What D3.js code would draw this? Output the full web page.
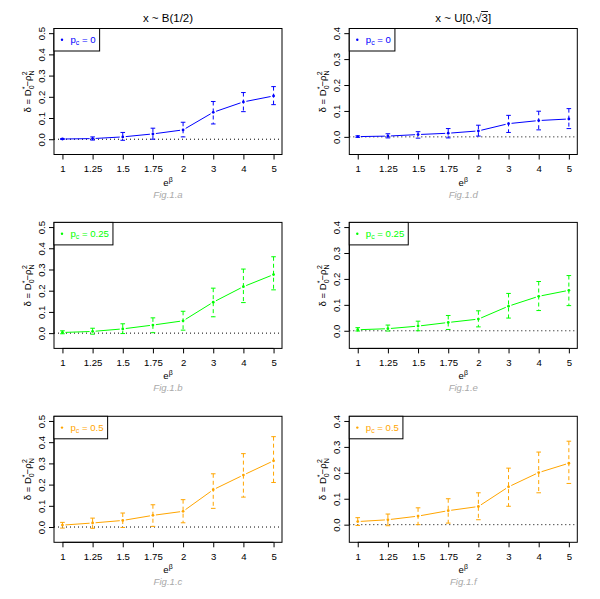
<!DOCTYPE html>
<html><head><meta charset="utf-8">
<script src="https://cdn.jsdelivr.net/npm/d3@7"></script>
<style>
body{margin:0;background:#fff}
svg{display:block}
text{font-family:"Liberation Sans",Arial,Helvetica,sans-serif}
</style>
</head><body>
<svg id="c" width="600" height="599"></svg>
<script>
const categories = ["1","1.25","1.5","1.75","2","3","4","5"];
const yTicksLeft = [0,0.1,0.2,0.3,0.4,0.5];
const yTicksRight = [0,0.1,0.2,0.3,0.4];
const titles = ["x ~ B(1/2)", "x ~ U[0,\u221A3]"];
const figLabels = ["Fig.1.a","Fig.1.b","Fig.1.c","Fig.1.d","Fig.1.e","Fig.1.f"];
const pcLabels = ["0","0.25","0.5"];
const colors = ["#0000FF","#00FF00","#FFA500"];

const mean_a  = [0.001, 0.003, 0.011, 0.025, 0.044, 0.127, 0.176, 0.204];
const lower_a = [-0.001,-0.004,-0.005, 0.000, 0.011, 0.072, 0.130, 0.163];
const upper_a = [0.003, 0.011, 0.032, 0.052, 0.080, 0.178, 0.220, 0.248];

const mean_b  = [0.003, 0.008, 0.020, 0.038, 0.058, 0.146, 0.219, 0.276];
const lower_b = [-0.003,-0.005,-0.002, 0.002, 0.014, 0.077, 0.144, 0.204];
const upper_b = [0.011, 0.023, 0.044, 0.072, 0.103, 0.212, 0.302, 0.360];

const mean_c  = [0.009, 0.019, 0.031, 0.055, 0.074, 0.176, 0.245, 0.312];
const lower_c = [-0.005,-0.006,-0.002, 0.003, 0.020, 0.088, 0.141, 0.210];
const upper_c = [0.022, 0.042, 0.066, 0.105, 0.129, 0.251, 0.346, 0.426];

const mean_d  = [0.001, 0.003, 0.009, 0.014, 0.023, 0.051, 0.063, 0.069];
const lower_d = [-0.002,-0.004,-0.005,-0.004, 0.003, 0.017, 0.027, 0.032];
const upper_d = [0.004, 0.012, 0.020, 0.032, 0.045, 0.083, 0.099, 0.109];

const mean_e  = [0.004, 0.008, 0.018, 0.032, 0.045, 0.095, 0.133, 0.156];
const lower_e = [-0.001,-0.001, 0.000, 0.005, 0.015, 0.049, 0.078, 0.097];
const upper_e = [0.012, 0.022, 0.037, 0.059, 0.077, 0.144, 0.190, 0.213];

const mean_f  = [0.012, 0.019, 0.033, 0.054, 0.070, 0.146, 0.201, 0.237];
const lower_f = [-0.003,-0.004, 0.000, 0.006, 0.019, 0.071, 0.123, 0.159];
const upper_f = [0.027, 0.041, 0.065, 0.100, 0.123, 0.218, 0.280, 0.322];

const panels = [
  {col:0,row:0,mean:mean_a,lo:lower_a,hi:upper_a,fig:figLabels[0]},
  {col:0,row:1,mean:mean_b,lo:lower_b,hi:upper_b,fig:figLabels[1]},
  {col:0,row:2,mean:mean_c,lo:lower_c,hi:upper_c,fig:figLabels[2]},
  {col:1,row:0,mean:mean_d,lo:lower_d,hi:upper_d,fig:figLabels[3]},
  {col:1,row:1,mean:mean_e,lo:lower_e,hi:upper_e,fig:figLabels[4]},
  {col:1,row:2,mean:mean_f,lo:lower_f,hi:upper_f,fig:figLabels[5]}
];

const svg = d3.select("#c");
const colLeft = [54, 349.3];
const rowTop = [28.5, 222.4, 416.3];
const W = 228, H = 126;
const tickFs = 9.6;

panels.forEach(p => {
  const L = colLeft[p.col], T = rowTop[p.row];
  const color = colors[p.row];
  const ticks = p.col === 0 ? yTicksLeft : yTicksRight;
  const ymin = -0.05, ymax = ticks[ticks.length-1];
  const ext = (ymax - ymin) * 0.04;
  const y = d3.scaleLinear().domain([ymin-ext, ymax+ext]).range([T+H, T]);
  const x = d3.scalePoint().domain(categories).range([L, L+W]).padding(0.28);
  const g = svg.append("g");

  // zero dotted line
  g.append("line").attr("x1", L).attr("x2", L+W).attr("y1", y(0)).attr("y2", y(0))
    .attr("stroke", "#000").attr("stroke-width", 1).attr("stroke-dasharray", "1,3");

  // connecting line with gaps
  const pts = categories.map((c,i) => [x(c), y(p.mean[i])]);
  for (let i = 0; i < pts.length-1; i++) {
    const [x1,y1] = pts[i], [x2,y2] = pts[i+1];
    const dx = x2-x1, dy = y2-y1, len = Math.hypot(dx,dy), gap = 3;
    if (len <= 2*gap) continue;
    g.append("line")
      .attr("x1", x1+dx/len*gap).attr("y1", y1+dy/len*gap)
      .attr("x2", x2-dx/len*gap).attr("y2", y2-dy/len*gap)
      .attr("stroke", color).attr("stroke-width", 1);
  }

  // error bars
  categories.forEach((c,i) => {
    const cx = x(c);
    g.append("line").attr("x1", cx).attr("x2", cx)
      .attr("y1", y(p.hi[i])).attr("y2", y(p.lo[i]))
      .attr("stroke", color).attr("stroke-width", 1).attr("stroke-dasharray", "4,3");
    [p.hi[i], p.lo[i]].forEach(v => {
      g.append("line").attr("x1", cx-2.3).attr("x2", cx+2.3)
        .attr("y1", y(v)).attr("y2", y(v))
        .attr("stroke", color).attr("stroke-width", 1);
    });
    g.append("circle").attr("cx", cx).attr("cy", y(p.mean[i])).attr("r", 1.4).attr("fill", color);
  });

  // box
  g.append("rect").attr("x", L).attr("y", T).attr("width", W).attr("height", H)
    .attr("fill", "none").attr("stroke", "#000").attr("stroke-width", 1);

  // y axis
  const ya = g.append("g").attr("transform", `translate(${L},0)`)
    .call(d3.axisLeft(y).tickValues(ticks).tickFormat(d3.format(".1f")).tickSize(5).tickSizeOuter(0));
  ya.select(".domain").attr("d", `M0,${y(ticks[0])}V${y(ticks[ticks.length-1])}`);
  ya.selectAll("text").attr("x", 0).attr("dy", 0).attr("text-anchor", "middle")
    .attr("transform", "translate(-9,0) rotate(-90)")
    .style("font-size", tickFs+"px").style("font-family", '"Liberation Sans",Arial,sans-serif').attr("fill", "#000");

  // x axis
  const xa = g.append("g").attr("transform", `translate(0,${T+H})`)
    .call(d3.axisBottom(x).tickSize(5).tickSizeOuter(0).tickPadding(5.5));
  xa.select(".domain").attr("d", `M${x(categories[0])},0H${x(categories[categories.length-1])}`);
  xa.selectAll("text").style("font-size", tickFs+"px").style("font-family", '"Liberation Sans",Arial,sans-serif').attr("fill", "#000");

  const cxm = L + W/2;
  // x label e^beta
  const xl = g.append("text").attr("x", cxm).attr("y", T+H+31).attr("text-anchor", "middle")
    .style("font-size", "9.6px");
  xl.append("tspan").text("e");
  xl.append("tspan").attr("dy", -4).style("font-size", "7px").text("\u03B2");

  // fig label
  g.append("text").attr("x", cxm).attr("y", T+H+43).attr("text-anchor", "middle")
    .style("font-size", "9.6px").style("font-style", "italic").attr("fill", "#A9A9A9").text(p.fig);

  // y label
  const yl = g.append("text").attr("transform", `translate(${L-23},${T+H/2}) rotate(-90)`)
    .attr("text-anchor", "middle").style("font-size", "9.6px");
  yl.append("tspan").text("\u03B4 = D");
  yl.append("tspan").attr("dy", 2.5).style("font-size", "7px").text("0");
  yl.append("tspan").attr("dx", -3.9).attr("dy", -7).style("font-size", "7px").text("*");
  yl.append("tspan").attr("dy", 4.5).text("\u2212\u03C1");
  yl.append("tspan").attr("dy", 2.5).style("font-size", "7px").text("N");
  yl.append("tspan").attr("dx", -4.7).attr("dy", -7).style("font-size", "7px").text("2");

  // legend
  const lg = g.append("g");
  const lt = lg.append("text").attr("x", L+16.5).attr("y", T+14.5).attr("fill", color).style("font-size", "9.6px");
  lt.append("tspan").text("p");
  lt.append("tspan").attr("dy", 2).style("font-size", "7px").text("c");
  lt.append("tspan").attr("dy", -2).text(" = " + pcLabels[p.row]);
  const tw = lt.node().getComputedTextLength();
  lg.insert("rect", "text").attr("x", L).attr("y", T).attr("width", 16.5 + tw + 4).attr("height", 22.5)
    .attr("fill", "#fff").attr("stroke", "#000").attr("stroke-width", 1);
  lg.append("circle").attr("cx", L+8).attr("cy", T+11.3).attr("r", 1.2).attr("fill", color);

  // titles
  if (p.row === 0) {
    const t = g.append("text").attr("x", cxm).attr("y", 21.5).attr("text-anchor", "middle")
      .style("font-size", "11.5px").text(titles[p.col]);
    const s = titles[p.col];
    const k = s.indexOf("\u221A");
    if (k >= 0) {
      const n = t.node();
      const a = n.getStartPositionOfChar(k + 1).x;
      const b = n.getEndPositionOfChar(k + 1).x;
      const a0 = n.getStartPositionOfChar(k).x;
      const sw = n.getEndPositionOfChar(k).x;
      g.append("line").attr("x1", sw - 0.5).attr("x2", b).attr("y1", 11.5).attr("y2", 11.5)
        .attr("stroke", "#000").attr("stroke-width", 0.9);
    }
  }
});
</script>
</body></html>
